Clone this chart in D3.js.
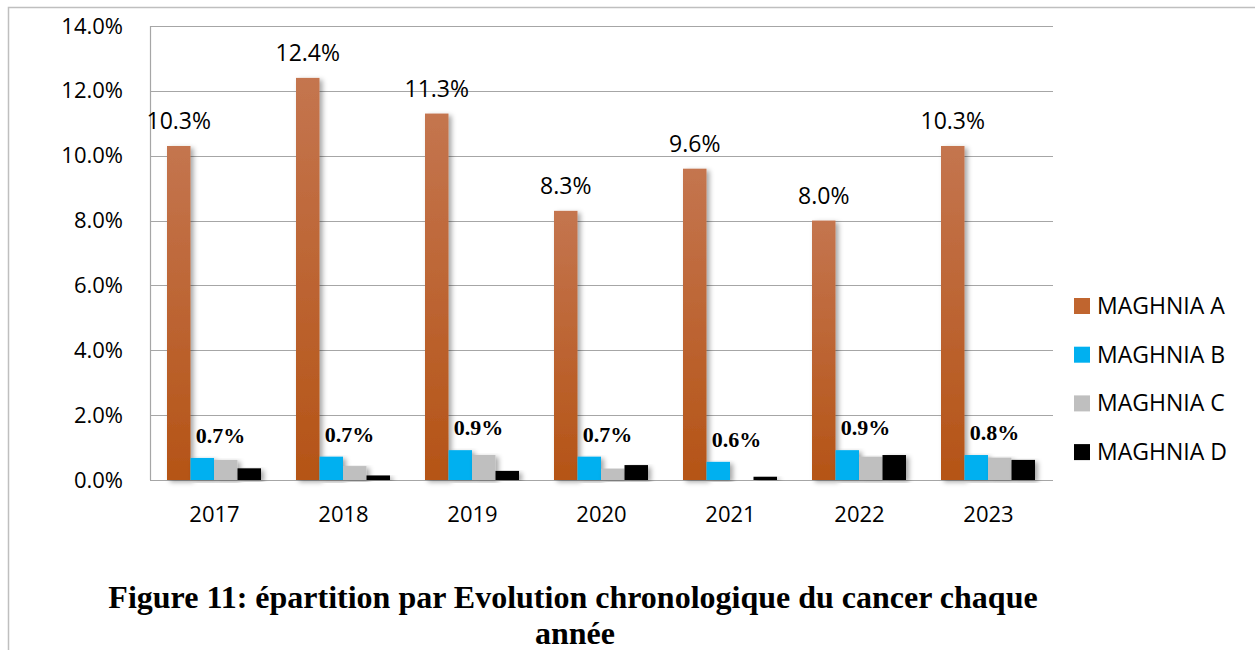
<!DOCTYPE html>
<html>
<head>
<meta charset="utf-8">
<script src="https://cdn.jsdelivr.net/npm/d3@7"></script>
<style>
  body { margin: 0; background: #fff; }
  svg { display: block; }
</style>
</head>
<body>
<svg id="chart" width="1255" height="650"></svg>
<script>
// data
let years = ['2017', '2018', '2019', '2020', '2021', '2022', '2023']
let seriesNames = ['MAGHNIA A', 'MAGHNIA B', 'MAGHNIA C', 'MAGHNIA D']
let valuesA = [10.3, 12.4, 11.3, 8.3, 9.6, 8.0, 10.3]
let valuesB = [0.68, 0.72, 0.92, 0.72, 0.56, 0.92, 0.77]
let valuesC = [0.62, 0.43, 0.77, 0.35, 0, 0.72, 0.69]
let valuesD = [0.36, 0.14, 0.28, 0.46, 0.10, 0.77, 0.62]
let labelsA = ['10.3%', '12.4%', '11.3%', '8.3%', '9.6%', '8.0%', '10.3%']
let labelsB = ['0.7%', '0.7%', '0.9%', '0.7%', '0.6%', '0.9%', '0.8%']
let yTicks = [0, 2, 4, 6, 8, 10, 12, 14]
let colors = ['url(#gradA)', '#00b0f0', '#bfbfbf', '#000000']
let legendColors = ['#c0652f', '#00b0f0', '#bfbfbf', '#000000']

let allSeries = [valuesA, valuesB, valuesC, valuesD]

let sansFont = 'Open Sans, sans-serif'
let serifFont = 'Liberation Serif, Times New Roman, serif'

let svg = d3.select('#chart')

let defs = svg.append('defs')
let grad = defs.append('linearGradient')
    .attr('id', 'gradA')
    .attr('x1', 0).attr('y1', 0).attr('x2', 0).attr('y2', 1)
grad.append('stop').attr('offset', '0%').attr('stop-color', '#c4754f')
grad.append('stop').attr('offset', '100%').attr('stop-color', '#b55416')

let shadow = defs.append('filter')
    .attr('id', 'shadow')
    .attr('x', '-20%').attr('y', '-5%').attr('width', '160%').attr('height', '115%')
shadow.append('feDropShadow')
    .attr('dx', 3).attr('dy', 2)
    .attr('stdDeviation', 2.5)
    .attr('flood-color', '#000')
    .attr('flood-opacity', 0.35)

// outer frame
svg.append('path')
    .attr('d', 'M8.5,650 L8.5,7.5 L1255,7.5')
    .attr('fill', 'none')
    .attr('stroke', '#bfbfbf')
    .attr('stroke-width', 1.5)

let plotLeft = 150, plotRight = 1053, plotTop = 26, plotBottom = 480

let x = d3.scaleBand()
    .domain(years)
    .range([plotLeft, plotRight])

let inner = d3.scaleBand()
    .domain(d3.range(4))
    .range([17, 111])

let y = d3.scaleLinear()
    .domain([0, 14])
    .range([plotBottom, plotTop])

// gridlines
svg.append('g')
    .selectAll('line')
    .data(yTicks)
    .enter()
    .append('line')
    .attr('x1', plotLeft)
    .attr('x2', plotRight)
    .attr('y1', d => Math.round(y(d)) + 0.5)
    .attr('y2', d => Math.round(y(d)) + 0.5)
    .attr('stroke', '#a6a6a6')
    .attr('stroke-width', 1.2)

// left axis line
svg.append('line')
    .attr('x1', plotLeft + 0.5).attr('x2', plotLeft + 0.5)
    .attr('y1', plotTop).attr('y2', plotBottom)
    .attr('stroke', '#a6a6a6')
    .attr('stroke-width', 1.2)

// y tick labels
let yAxis = d3.axisLeft(y)
    .tickValues(yTicks)
    .tickFormat(d => d.toFixed(1) + '%')
    .tickSize(0)
    .tickPadding(27)
let gy = svg.append('g')
    .attr('transform', `translate(${plotLeft},0)`)
    .call(yAxis)
gy.select('.domain').remove()
gy.selectAll('text')
    .attr('font-family', sansFont)
    .attr('font-size', 22)
    .attr('fill', '#000')

// x tick labels
let xAxis = d3.axisBottom(x).tickSize(0).tickPadding(26)
let gx = svg.append('g')
    .attr('transform', `translate(0,${plotBottom})`)
    .call(xAxis)
gx.select('.domain').remove()
gx.selectAll('text')
    .attr('font-family', sansFont)
    .attr('font-size', 22)
    .attr('fill', '#000')

// bars
allSeries.forEach((vals, s) => {
    svg.append('g')
        .selectAll('rect')
        .data(vals)
        .enter()
        .append('rect')
        .attr('x', (d, i) => x(years[i]) + inner(s))
        .attr('y', d => y(d))
        .attr('width', inner.bandwidth())
        .attr('height', d => y(0) - y(d))
        .attr('fill', colors[s])
        .attr('filter', d => d > 0 ? 'url(#shadow)' : null)
})

// labels for series A
svg.append('g')
    .selectAll('text')
    .data(valuesA)
    .enter()
    .append('text')
    .attr('x', (d, i) => x(years[i]) + inner(0) + inner.bandwidth() / 2)
    .attr('y', d => y(d) - 17)
    .attr('text-anchor', 'middle')
    .attr('font-family', sansFont)
    .attr('font-size', 23)
    .text((d, i) => labelsA[i])

// labels for series B
svg.append('g')
    .selectAll('text')
    .data(valuesB)
    .enter()
    .append('text')
    .attr('x', (d, i) => x(years[i]) + x.bandwidth() / 2 + 6)
    .attr('y', d => y(d) - 15)
    .attr('text-anchor', 'middle')
    .attr('font-family', serifFont)
    .attr('font-weight', 'bold')
    .attr('font-size', 22)
    .text((d, i) => labelsB[i])

// legend
let legend = svg.append('g')
    .selectAll('g')
    .data(seriesNames)
    .enter()
    .append('g')
    .attr('transform', (d, i) => `translate(1074,${306 + i * 48.7})`)
legend.append('rect')
    .attr('x', 0).attr('y', -8)
    .attr('width', 16).attr('height', 16)
    .attr('fill', (d, i) => legendColors[i])
legend.append('text')
    .attr('x', 23)
    .attr('y', 8)
    .attr('font-family', sansFont)
    .attr('font-size', 23)
    .text(d => d)

// caption
let caption = svg.append('text')
    .attr('text-anchor', 'middle')
    .attr('font-family', serifFont)
    .attr('font-weight', 'bold')
    .attr('font-size', 32)
caption.append('tspan')
    .attr('x', 573).attr('y', 608)
    .text('Figure 11: épartition par Evolution chronologique du cancer chaque')
caption.append('tspan')
    .attr('x', 575).attr('y', 644)
    .text('année')
</script>
</body>
</html>
